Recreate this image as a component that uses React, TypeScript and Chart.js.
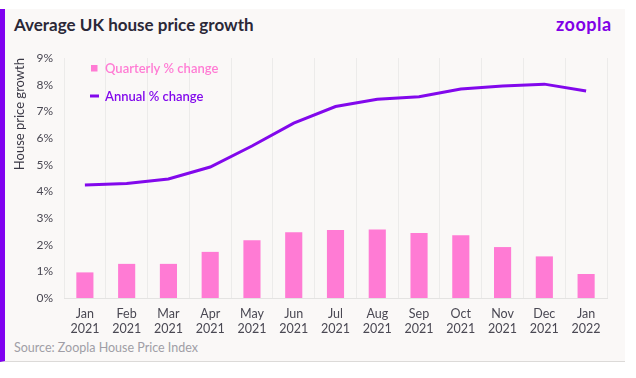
import React, { useEffect, useRef } from "react";
import { Chart, registerables } from "chart.js";

Chart.register(...registerables);

const months = ["Jan", "Feb", "Mar", "Apr", "May", "Jun", "Jul", "Aug", "Sep", "Oct", "Nov", "Dec", "Jan"];
const years = ["2021", "2021", "2021", "2021", "2021", "2021", "2021", "2021", "2021", "2021", "2021", "2021", "2022"];
const quarterly = [0.96, 1.28, 1.28, 1.73, 2.17, 2.47, 2.55, 2.57, 2.44, 2.35, 1.91, 1.56, 0.9];
const annual = [4.24, 4.29, 4.46, 4.91, 5.7, 6.56, 7.18, 7.45, 7.55, 7.84, 7.95, 8.02, 7.76];
const yTicks = [0, 1, 2, 3, 4, 5, 6, 7, 8, 9];

const PINK = "#ff7bd4";
const PURPLE = "#8208ec";
const FONT = "Lato, 'Open Sans', sans-serif";

const legendPlugin = {
  id: "customLegend",
  afterDraw(chart: any) {
    const { ctx, chartArea } = chart;
    const ds = chart.data.datasets;
    const x0 = chartArea.left + 27;
    const y1 = chartArea.top + 10;
    const y2 = chartArea.top + 38;
    ctx.save();
    ctx.font = `600 13px ${FONT}`;
    ctx.textBaseline = "middle";
    ctx.textAlign = "left";
    ctx.fillStyle = ds[0].backgroundColor;
    ctx.fillRect(x0, y1 - 3, 6.5, 6.5);
    ctx.fillText(ds[0].label, x0 + 14, y1 + 0.5);
    ctx.strokeStyle = ds[1].borderColor;
    ctx.lineWidth = 3;
    ctx.beginPath();
    ctx.moveTo(x0 - 1, y2);
    ctx.lineTo(x0 + 8, y2);
    ctx.stroke();
    ctx.fillStyle = ds[1].borderColor;
    ctx.fillText(ds[1].label, x0 + 14, y2 + 0.5);
    ctx.restore();
  },
};

export default function App() {
  const ref = useRef<HTMLCanvasElement>(null);

  useEffect(() => {
    if (!ref.current) return;
    const chart = new Chart(ref.current, {
      type: "bar",
      data: {
        labels: months.map((m, i) => [m, years[i]]),
        datasets: [
          {
            type: "bar",
            label: "Quarterly % change",
            data: quarterly,
            backgroundColor: PINK,
            borderWidth: 0,
            barPercentage: 0.41,
            categoryPercentage: 1,
            order: 2,
          },
          {
            type: "line",
            label: "Annual % change",
            data: annual,
            borderColor: PURPLE,
            backgroundColor: PURPLE,
            borderWidth: 3,
            pointRadius: 0,
            tension: 0,
            order: 1,
          } as any,
        ],
      },
      options: {
        animation: false,
        responsive: false,
        maintainAspectRatio: false,
        layout: { padding: { left: 0, top: 58, right: 29, bottom: 40 } },
        plugins: {
          legend: { display: false },
          tooltip: { enabled: false },
          title: { display: false },
        },
        scales: {
          x: {
            offset: true,
            grid: {
              display: true,
              offset: true,
              color: "#ecebea",
              drawTicks: false,
            },
            border: { display: true, color: "#e4e3e2" },
            ticks: {
              color: "#4a4853",
              font: { family: FONT, size: 12.5 },
              padding: 8,
              maxRotation: 0,
              autoSkip: false,
            },
            afterFit: (s: any) => {
              s.height = 40;
            },
          },
          y: {
            min: 0,
            max: 9,
            grid: { display: false, drawTicks: false },
            border: { display: false },
            afterBuildTicks: (s: any) => {
              s.ticks = yTicks.map((v) => ({ value: v }));
            },
            ticks: {
              color: "#4a4853",
              font: { family: FONT, size: 12 },
              padding: 11,
              callback: (v: any) => v + "%",
            },
            title: {
              display: true,
              text: "House price growth",
              align: "end",
              color: "#3a3845",
              font: { family: FONT, size: 13 },
              padding: { top: 12, bottom: 0 },
            },
            afterFit: (s: any) => {
              s.width = 64;
            },
          },
        },
      },
      plugins: [legendPlugin],
    });
    return () => chart.destroy();
  }, []);

  return (
    <div
      style={{
        position: "fixed",
        left: 0,
        top: 0,
        width: 636,
        height: 378,
        background: "#ffffff",
        overflow: "hidden",
        fontFamily: FONT,
      }}
    >
      <div
        style={{
          position: "absolute",
          left: 0,
          top: 9,
          width: 620,
          height: 352,
          background: "#faf8f7",
          borderLeft: "5px solid #8000f0",
          borderBottom: "1px solid #dcdad8",
        }}
      />
      <div
        style={{
          position: "absolute",
          left: 14,
          top: 14,
          fontSize: 17,
          fontWeight: 700,
          color: "#2b2838",
          whiteSpace: "nowrap",
        }}
      >
        Average UK house price growth
      </div>
      <div
        style={{
          position: "absolute",
          left: 556,
          top: 13,
          fontSize: 18,
          fontWeight: 700,
          color: "#8000e6",
          letterSpacing: 0.5,
          whiteSpace: "nowrap",
        }}
      >
        zoopla
      </div>
      <div
        style={{
          position: "absolute",
          left: 14,
          top: 340,
          fontSize: 12.5,
          color: "#a09ea6",
          whiteSpace: "nowrap",
        }}
      >
        Source: Zoopla House Price Index
      </div>
      <canvas
        ref={ref}
        width={636}
        height={378}
        style={{ position: "absolute", left: 0, top: 0, width: 636, height: 378 }}
      />
    </div>
  );
}
